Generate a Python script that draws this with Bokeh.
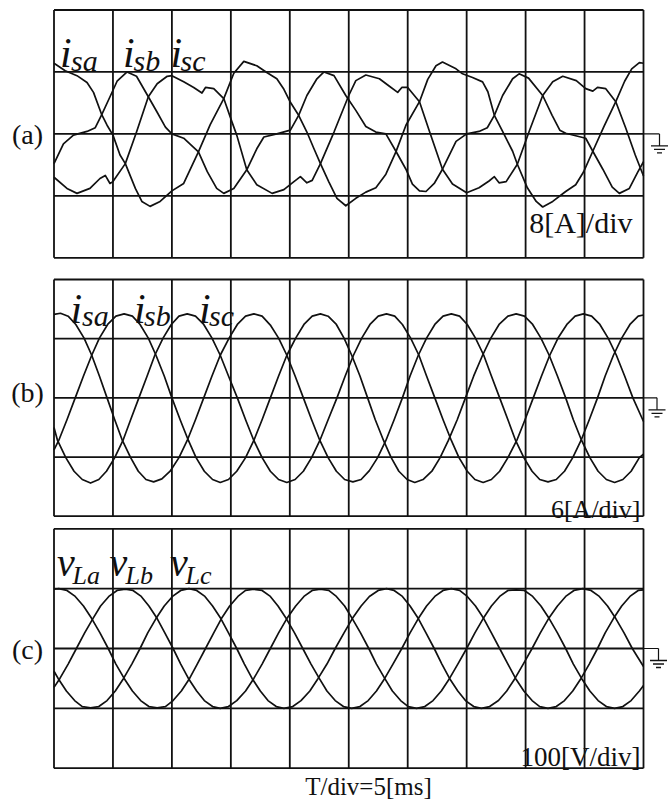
from bokeh.plotting import figure
from bokeh.layouts import column
from bokeh.models import Range1d
from bokeh.core.properties import value
from bokeh.embed import file_html
from bokeh.resources import INLINE

# ---------------- data (x in divisions 0..10, y in divisions -2..2) ----------------
X_DIVS = list(range(11))
Y_DIVS = [-2, -1, 0, 1, 2]

PANEL_TAGS = ["(a)", "(b)", "(c)"]
LABELS_A = [("i", "sa"), ("i", "sb"), ("i", "sc")]
LABELS_B = [("i", "sa"), ("i", "sb"), ("i", "sc")]
LABELS_C = [("v", "La"), ("v", "Lb"), ("v", "Lc")]
SCALE_LABELS = ["8[A]/div", "6[A/div]", "100[V/div]"]
TIME_LABEL = "T/div=5[ms]"

# panel (a): distorted source currents
A_ISA_X = [0.0, 0.19, 0.39, 0.56, 0.67, 0.81, 0.9, 1.0, 1.12, 1.21, 1.38, 1.49, 1.63, 1.8, 2.0, 2.2,
           2.45, 2.65, 2.88, 3.05, 3.22, 3.44, 3.61, 3.78, 3.9, 4.01, 4.15, 4.29, 4.41, 4.52, 4.66,
           4.8, 4.95, 5.12, 5.29, 5.46, 5.63, 5.8, 5.97, 6.2, 6.34, 6.48, 6.59, 6.82, 6.93, 7.1,
           7.27, 7.36, 7.47, 7.61, 7.78, 7.86, 8.03, 8.18, 8.29, 8.46, 8.68, 8.85, 8.98, 9.14,
           9.33, 9.53, 9.68, 9.8, 9.93, 10.0]
A_ISA_Y = [1.14, 1.02, 0.94, 0.83, 0.67, 0.31, 0.14, -0.02, -0.34, -0.48, -0.88, -1.09, -1.17, -1.09,
           -0.92, -0.8, -0.29, 0.15, 0.57, 0.98, 1.17, 1.1, 0.99, 0.89, 0.72, 0.51, 0.3, 0.03, -0.24,
           -0.48, -0.77, -1.04, -1.16, -1.04, -0.94, -0.87, -0.65, -0.29, 0.14, 0.52, 0.88, 1.1,
           1.16, 1.05, 0.97, 0.91, 0.84, 0.68, 0.3, 0.04, -0.28, -0.49, -0.87, -1.09, -1.18, -1.09,
           -0.93, -0.82, -0.62, -0.28, 0.12, 0.52, 0.85, 1.05, 1.15, 1.14]
A_ISB_X = [0.0, 0.16, 0.33, 0.56, 0.7, 0.81, 0.95, 1.07, 1.24, 1.4, 1.6, 1.75, 1.89, 2.0, 2.2, 2.45,
           2.6, 2.76, 2.88, 3.05, 3.27, 3.44, 3.56, 3.78, 4.01, 4.15, 4.29, 4.46, 4.58, 4.75, 4.95,
           5.12, 5.29, 5.46, 5.63, 5.8, 5.97, 6.08, 6.2, 6.31, 6.45, 6.59, 6.82, 7.0, 7.21, 7.35,
           7.47, 7.61, 7.78, 7.89, 8.05, 8.29, 8.45, 8.58, 8.68, 9.02, 9.14, 9.31, 9.47, 9.59,
           9.76, 9.9, 10.0]
A_ISB_Y = [-0.48, -0.16, -0.02, 0.04, 0.1, 0.31, 0.6, 0.85, 1.0, 0.93, 0.6, 0.35, 0.11, 0.0, -0.07,
           -0.29, -0.61, -0.88, -0.96, -0.88, -0.58, -0.24, -0.05, 0.0, 0.06, 0.3, 0.62, 0.89, 1.0,
           0.94, 0.62, 0.38, 0.12, 0.03, 0.0, -0.28, -0.57, -0.81, -0.92, -0.93, -0.8, -0.57, -0.12,
           0.0, 0.04, 0.1, 0.3, 0.62, 0.89, 0.97, 0.9, 0.62, 0.3, 0.06, 0.01, -0.07, -0.28, -0.57,
           -0.86, -0.96, -0.88, -0.62, -0.45]
A_ISC_X = [0.0, 0.22, 0.39, 0.61, 0.78, 0.87, 0.95, 1.0, 1.21, 1.4, 1.6, 1.75, 1.92, 2.0, 2.2, 2.37,
           2.51, 2.57, 2.71, 2.88, 3.02, 3.1, 3.27, 3.44, 3.7, 3.9, 4.07, 4.18, 4.29, 4.38, 4.52,
           4.75, 5.0, 5.12, 5.29, 5.52, 5.69, 5.83, 5.9, 6.0, 6.2, 6.37, 6.59, 6.76, 7.0, 7.21,
           7.38, 7.47, 7.55, 7.67, 7.86, 8.06, 8.29, 8.46, 8.63, 8.86, 9.02, 9.14, 9.22, 9.36,
           9.53, 9.7, 9.86, 10.0]
A_ISC_Y = [-0.7, -0.88, -0.96, -0.88, -0.72, -0.67, -0.8, -0.77, -0.48, 0.03, 0.6, 0.81, 0.93, 0.94,
           0.84, 0.75, 0.66, 0.75, 0.73, 0.57, 0.19, -0.02, -0.58, -0.82, -0.96, -0.9, -0.77, -0.69,
           -0.79, -0.75, -0.48, 0.03, 0.62, 0.86, 0.95, 0.89, 0.77, 0.67, 0.75, 0.75, 0.52, 0.04,
           -0.57, -0.81, -0.95, -0.87, -0.76, -0.69, -0.79, -0.77, -0.49, 0.04, 0.62, 0.84, 0.93,
           0.86, 0.73, 0.69, 0.75, 0.73, 0.52, 0.09, -0.34, -0.68]

# panel (b): compensated source currents
B_ISA_X = [0.0, 0.11, 0.24, 0.37, 0.51, 0.64, 0.77, 0.9, 1.03, 1.16, 1.3, 1.43, 1.56, 1.69,
           1.83, 1.97, 2.12, 2.26, 2.4, 2.54, 2.68, 2.82, 2.97, 3.11, 3.25, 3.39,
           3.53, 3.67, 3.81, 3.95, 4.09, 4.23, 4.37, 4.51, 4.65, 4.79, 4.93, 5.07,
           5.21, 5.35, 5.49, 5.63, 5.77, 5.91, 6.04, 6.18, 6.32, 6.46, 6.6, 6.74,
           6.88, 7.01, 7.15, 7.29, 7.42, 7.56, 7.7, 7.83, 7.97, 8.11, 8.24, 8.38,
           8.52, 8.66, 8.8, 8.94, 9.08, 9.22, 9.35, 9.49, 9.63, 9.77, 9.91, 10.0]
B_ISA_Y = [1.41, 1.43, 1.38, 1.24, 1.01, 0.72, 0.37, 0.0, -0.37, -0.72, -1.01, -1.24, -1.38, -1.42,
           -1.37, -1.24, -1.01, -0.72, -0.37, 0.0, 0.37, 0.72, 1.01, 1.24, 1.38, 1.42,
           1.38, 1.23, 1.01, 0.72, 0.37, 0.0, -0.37, -0.72, -1.01, -1.24, -1.38, -1.42,
           -1.38, -1.23, -1.01, -0.72, -0.37, 0.0, 0.37, 0.72, 1.01, 1.24, 1.38, 1.42,
           1.38, 1.24, 1.01, 0.72, 0.37, 0.0, -0.37, -0.72, -1.01, -1.24, -1.38, -1.42,
           -1.38, -1.24, -1.01, -0.72, -0.37, 0.0, 0.37, 0.72, 1.01, 1.24, 1.38, 1.4]
B_ISB_X = [0.0, 0.08, 0.22, 0.36, 0.5, 0.64, 0.77, 0.91, 1.05, 1.19,
           1.33, 1.46, 1.6, 1.73, 1.87, 2.0, 2.14, 2.28, 2.41, 2.55, 2.69, 2.82,
           2.96, 3.1, 3.25, 3.39, 3.53, 3.67, 3.81, 3.95, 4.1, 4.24, 4.38, 4.52,
           4.65, 4.79, 4.92, 5.05, 5.19, 5.32, 5.45, 5.59, 5.72, 5.85, 5.99, 6.12,
           6.26, 6.41, 6.55, 6.69, 6.84, 6.98, 7.12, 7.27, 7.41, 7.55, 7.7, 7.84,
           7.98, 8.12, 8.26, 8.4, 8.54, 8.68, 8.81, 8.95, 9.09, 9.23, 9.37, 9.51,
           9.65, 9.79, 9.93, 10.0]
B_ISB_Y = [-0.88, -0.72, -0.37, 0.0, 0.37, 0.72, 1.01, 1.24, 1.38, 1.42,
           1.38, 1.24, 1.01, 0.72, 0.37, 0.0, -0.37, -0.72, -1.01, -1.24, -1.38, -1.43,
           -1.38, -1.24, -1.01, -0.72, -0.37, 0.0, 0.37, 0.72, 1.01, 1.24, 1.38, 1.42,
           1.38, 1.24, 1.01, 0.72, 0.37, 0.0, -0.37, -0.72, -1.01, -1.24, -1.38, -1.43,
           -1.38, -1.24, -1.01, -0.72, -0.37, 0.0, 0.37, 0.72, 1.01, 1.24, 1.38, 1.42,
           1.38, 1.24, 1.01, 0.72, 0.37, 0.0, -0.37, -0.72, -1.01, -1.24, -1.38, -1.43,
           -1.38, -1.24, -1.01, -0.95]
B_ISC_X = [0.0, 0.06, 0.2, 0.34, 0.48, 0.62,
           0.76, 0.89, 1.03, 1.17, 1.3, 1.44, 1.58, 1.71, 1.85, 1.99, 2.12, 2.26,
           2.4, 2.54, 2.68, 2.82, 2.96, 3.11, 3.25, 3.39, 3.53, 3.67, 3.81, 3.95,
           4.09, 4.23, 4.37, 4.51, 4.65, 4.8, 4.94, 5.08, 5.22, 5.36, 5.5, 5.64,
           5.78, 5.91, 6.05, 6.19, 6.32, 6.46, 6.6, 6.74, 6.87, 7.01, 7.14, 7.28,
           7.42, 7.56, 7.7, 7.85, 7.99, 8.13, 8.27, 8.41, 8.55, 8.7, 8.84, 8.98,
           9.12, 9.26, 9.4, 9.54, 9.68, 9.82, 10.0]
B_ISC_Y = [-0.5, -0.72, -1.01, -1.24, -1.38, -1.44,
           -1.38, -1.24, -1.01, -0.72, -0.37, 0.0, 0.37, 0.72, 1.01, 1.24, 1.38, 1.42,
           1.38, 1.24, 1.01, 0.72, 0.37, 0.0, -0.37, -0.72, -1.01, -1.24, -1.38, -1.43,
           -1.38, -1.24, -1.01, -0.72, -0.37, 0.0, 0.37, 0.72, 1.01, 1.24, 1.38, 1.42,
           1.38, 1.24, 1.01, 0.72, 0.37, 0.0, -0.37, -0.72, -1.01, -1.24, -1.38, -1.43,
           -1.38, -1.24, -1.01, -0.72, -0.37, 0.0, 0.37, 0.72, 1.01, 1.24, 1.38, 1.42,
           1.38, 1.24, 1.01, 0.72, 0.37, 0.0, -0.4]

# panel (c): load voltages
C_VLA_X = [0.0, 0.08, 0.22, 0.36, 0.5, 0.64, 0.78, 0.92, 1.05, 1.19, 1.33, 1.47, 1.61, 1.75,
           1.89, 2.02, 2.16, 2.3, 2.43, 2.57, 2.71, 2.84, 2.98, 3.12, 3.25, 3.39,
           3.53, 3.67, 3.8, 3.94, 4.08, 4.22, 4.36, 4.5, 4.63, 4.77, 4.91, 5.05,
           5.19, 5.33, 5.47, 5.61, 5.75, 5.9, 6.04, 6.18, 6.32, 6.46, 6.6, 6.74,
           6.88, 7.01, 7.15, 7.29, 7.42, 7.56, 7.7, 7.83, 7.97, 8.11, 8.24, 8.38,
           8.52, 8.66, 8.8, 8.94, 9.08, 9.22, 9.35, 9.49, 9.63, 9.77, 9.91, 10.0]
C_VLA_Y = [0.99, 1.0, 0.97, 0.87, 0.71, 0.5, 0.26, 0.0, -0.26, -0.5, -0.71, -0.87, -0.97, -0.99,
           -0.97, -0.87, -0.71, -0.5, -0.26, 0.0, 0.26, 0.5, 0.71, 0.87, 0.97, 0.99,
           0.97, 0.87, 0.71, 0.5, 0.26, 0.0, -0.26, -0.5, -0.71, -0.87, -0.97, -1.0,
           -0.97, -0.87, -0.71, -0.5, -0.26, 0.0, 0.26, 0.5, 0.71, 0.87, 0.97, 1.0,
           0.97, 0.87, 0.71, 0.5, 0.26, 0.0, -0.26, -0.5, -0.71, -0.87, -0.97, -1.0,
           -0.97, -0.87, -0.71, -0.5, -0.26, 0.0, 0.26, 0.5, 0.71, 0.87, 0.97, 0.98]
C_VLB_X = [0.0, 0.1, 0.24, 0.38, 0.52, 0.66, 0.79, 0.93, 1.07, 1.21,
           1.34, 1.48, 1.61, 1.75, 1.88, 2.02, 2.15, 2.28, 2.42, 2.55, 2.69, 2.82,
           2.96, 3.1, 3.25, 3.39, 3.53, 3.67, 3.81, 3.95, 4.1, 4.24, 4.38, 4.52,
           4.66, 4.79, 4.93, 5.06, 5.2, 5.34, 5.47, 5.61, 5.74, 5.88, 6.01, 6.15,
           6.29, 6.43, 6.57, 6.71, 6.85, 7.0, 7.14, 7.28, 7.42, 7.56, 7.7, 7.84,
           7.98, 8.12, 8.26, 8.4, 8.54, 8.68, 8.81, 8.95, 9.09, 9.23, 9.37, 9.51,
           9.65, 9.79, 9.93, 10.0]
C_VLB_Y = [-0.65, -0.5, -0.26, 0.0, 0.26, 0.5, 0.71, 0.87, 0.97, 0.99,
           0.97, 0.87, 0.71, 0.5, 0.26, 0.0, -0.26, -0.5, -0.71, -0.87, -0.97, -1.0,
           -0.97, -0.87, -0.71, -0.5, -0.26, 0.0, 0.26, 0.5, 0.71, 0.87, 0.97, 0.99,
           0.97, 0.87, 0.71, 0.5, 0.26, 0.0, -0.26, -0.5, -0.71, -0.87, -0.97, -1.0,
           -0.97, -0.87, -0.71, -0.5, -0.26, 0.0, 0.26, 0.5, 0.71, 0.87, 0.97, 0.98,
           0.97, 0.87, 0.71, 0.5, 0.26, 0.0, -0.26, -0.5, -0.71, -0.87, -0.97, -1.0,
           -0.97, -0.87, -0.71, -0.62]
C_VLC_X = [0.0, 0.07, 0.21, 0.35, 0.48, 0.62,
           0.76, 0.9, 1.04, 1.18, 1.32, 1.46, 1.59, 1.73, 1.87, 2.01, 2.15, 2.29,
           2.42, 2.56, 2.69, 2.83, 2.96, 3.1, 3.23, 3.36, 3.5, 3.63, 3.77, 3.9,
           4.05, 4.19, 4.34, 4.48, 4.63, 4.77, 4.92, 5.06, 5.21, 5.35, 5.5, 5.64,
           5.77, 5.91, 6.04, 6.18, 6.31, 6.45, 6.58, 6.71, 6.85, 6.98, 7.12, 7.25,
           7.39, 7.54, 7.68, 7.82, 7.96, 8.11, 8.25, 8.39, 8.54, 8.68, 8.82, 8.97,
           9.11, 9.25, 9.39, 9.53, 9.67, 9.81, 10.0]
C_VLC_Y = [-0.38, -0.5, -0.71, -0.87, -0.97, -0.99,
           -0.97, -0.87, -0.71, -0.5, -0.26, 0.0, 0.26, 0.5, 0.71, 0.87, 0.97, 1.0,
           0.97, 0.87, 0.71, 0.5, 0.26, 0.0, -0.26, -0.5, -0.71, -0.87, -0.97, -1.0,
           -0.97, -0.87, -0.71, -0.5, -0.26, 0.0, 0.26, 0.5, 0.71, 0.87, 0.97, 1.0,
           0.97, 0.87, 0.71, 0.5, 0.26, 0.0, -0.26, -0.5, -0.71, -0.87, -0.97, -1.0,
           -0.97, -0.87, -0.71, -0.5, -0.26, 0.0, 0.26, 0.5, 0.71, 0.87, 0.97, 1.0,
           0.97, 0.87, 0.71, 0.5, 0.26, 0.0, -0.3]

# ---------------- layout helpers (page pixel geometry, page origin at top-left) ----------------
W = 668
GX0, GX1 = 53.5, 643.0
DIVX = (GX1 - GX0) / 10.0
FONT = value("Liberation Serif")
INK = "#111111"


def make_panel(top, h, gtop, gbot):
    divy = (gbot - gtop) / 4.0
    cy = (gtop + gbot) / 2.0

    def X(px):
        return (px - GX0) / DIVX

    def Y(py):
        return (cy - py) / divy

    p = figure(width=W, height=h, x_range=Range1d(X(0), X(W)),
               y_range=Range1d(Y(top + h), Y(top)), output_backend="svg",
               toolbar_location=None, min_border=0, x_axis_location=None,
               y_axis_location=None, title=None)
    p.outline_line_color = None
    p.background_fill_color = "white"
    p.border_fill_color = "white"
    p.grid.visible = False
    # oscilloscope graticule
    p.segment(x0=X_DIVS, y0=[Y_DIVS[0]] * len(X_DIVS), x1=X_DIVS, y1=[Y_DIVS[-1]] * len(X_DIVS),
              line_color=INK, line_width=1.8)
    p.segment(x0=[X_DIVS[0]] * len(Y_DIVS), y0=Y_DIVS, x1=[X_DIVS[-1]] * len(Y_DIVS), y1=Y_DIVS,
              line_color=INK, line_width=1.8)
    return p, X, Y


def add_traces(p, traces):
    for xs, ys in traces:
        p.line(xs, ys, line_color=INK, line_width=1.7, line_join="round")


def add_tag(p, X, Y, tag, py):
    p.text(x=[X(27)], y=[Y(py)], text=[tag], text_font=FONT, text_font_size="28px",
           text_align="center", text_baseline="middle", text_color=INK)


def add_labels(p, X, Y, labels, lefts, sub_lefts, base, sub_base, main_size, sub_size):
    for (m, s), lx, sx in zip(labels, lefts, sub_lefts):
        p.text(x=[X(lx)], y=[Y(base)], text=[m], text_font=FONT, text_font_size=main_size,
               text_font_style="italic", text_align="left", text_baseline="alphabetic",
               text_color=INK)
        p.text(x=[X(sx)], y=[Y(sub_base)], text=[s], text_font=FONT, text_font_size=sub_size,
               text_font_style="italic", text_align="left", text_baseline="alphabetic",
               text_color=INK)


def add_ground(p, X, Y, py, gx):
    p.segment(x0=[X(GX1)], y0=[Y(py)], x1=[X(gx)], y1=[Y(py)], line_color=INK, line_width=1.2)
    p.segment(x0=[X(gx)], y0=[Y(py)], x1=[X(gx)], y1=[Y(py + 12)], line_color=INK, line_width=1.2)
    hw = [8.5, 5.5, 2.5]
    dy = [12, 15.5, 19]
    p.segment(x0=[X(gx - w) for w in hw], y0=[Y(py + d) for d in dy],
              x1=[X(gx + w) for w in hw], y1=[Y(py + d) for d in dy],
              line_color=INK, line_width=1.3)


def add_scale(p, X, Y, txt, right, base, size):
    p.text(x=[X(right)], y=[Y(base)], text=[txt], text_font=FONT, text_font_size=size,
           text_align="right", text_baseline="alphabetic", text_color=INK)


# ---------------- panel (a) ----------------
pa, Xa, Ya = make_panel(0, 268, 9.5, 257.3)
add_traces(pa, [(A_ISA_X, A_ISA_Y), (A_ISB_X, A_ISB_Y), (A_ISC_X, A_ISC_Y)])
add_tag(pa, Xa, Ya, PANEL_TAGS[0], 134)
add_labels(pa, Xa, Ya, LABELS_A, [59.5, 122.5, 170.0], [70.5, 133.0, 180.0], 52.7, 60.0,
           "42px", "30px")
add_scale(pa, Xa, Ya, SCALE_LABELS[0], 632, 222, "30px")
add_ground(pa, Xa, Ya, 133.4, 659)

# ---------------- panel (b) ----------------
pb, Xb, Yb = make_panel(268, 254, 279.0, 515.7)
add_traces(pb, [(B_ISA_X, B_ISA_Y), (B_ISB_X, B_ISB_Y), (B_ISC_X, B_ISC_Y)])
add_tag(pb, Xb, Yb, PANEL_TAGS[1], 392)
add_labels(pb, Xb, Yb, LABELS_B, [70.0, 133.5, 198.5], [81.5, 143.5, 208.5], 308.3, 315.0,
           "42px", "30px")
add_scale(pb, Xb, Yb, SCALE_LABELS[1], 640, 508.5, "26px")
add_ground(pb, Xb, Yb, 397.35, 656.5)

# ---------------- panel (c) ----------------
pc, Xc, Yc = make_panel(522, 280, 528.3, 767.7)
add_traces(pc, [(C_VLA_X, C_VLA_Y), (C_VLB_X, C_VLB_Y), (C_VLC_X, C_VLC_Y)])
add_tag(pc, Xc, Yc, PANEL_TAGS[2], 649)
add_labels(pc, Xc, Yc, LABELS_C, [56.5, 109.0, 169.5], [72.0, 125.0, 185.0], 562.0, 575.0,
           "40px", "26px")
add_scale(pc, Xc, Yc, SCALE_LABELS[2], 640, 756.0, "27px")
add_ground(pc, Xc, Yc, 648.0, 658)
pc.text(x=[Xc(368)], y=[Yc(786)], text=[TIME_LABEL], text_font=FONT, text_font_size="25px",
        text_align="center", text_baseline="alphabetic", text_color=INK)

layout = column(pa, pb, pc, spacing=0)
open("out.html", "w").write(file_html(layout, INLINE))
